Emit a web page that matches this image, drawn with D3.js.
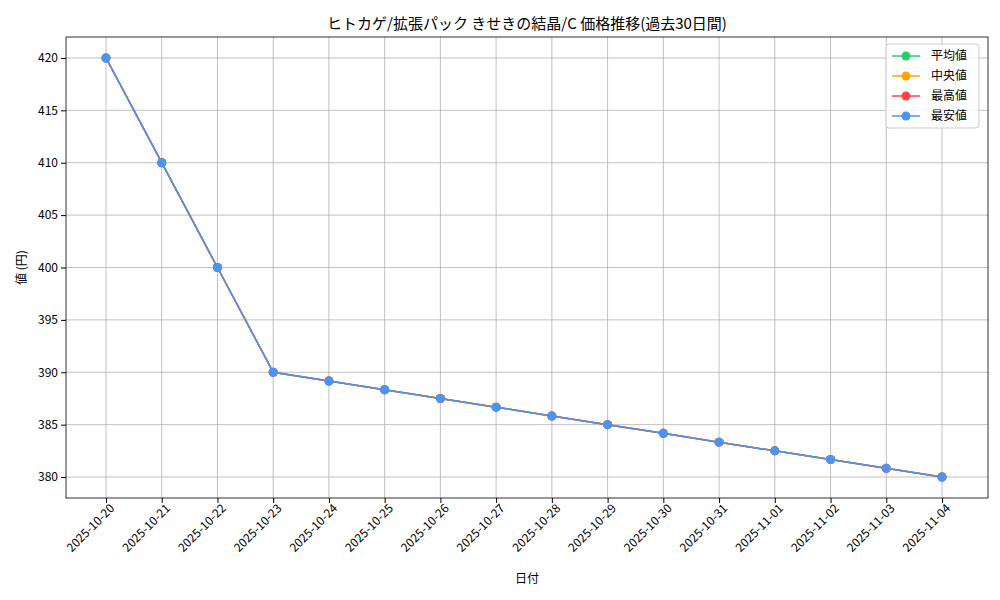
<!DOCTYPE html>
<html><head><meta charset="utf-8">
<script src="https://cdn.jsdelivr.net/npm/d3@7"></script>
<style>body{margin:0;background:#fff}text{font-family:"Noto Sans CJK JP",sans-serif}</style>
</head><body><svg id="c" width="1000" height="600"></svg>
<script>
const dates=["2025-10-20","2025-10-21","2025-10-22","2025-10-23","2025-10-24","2025-10-25","2025-10-26","2025-10-27","2025-10-28","2025-10-29","2025-10-30","2025-10-31","2025-11-01","2025-11-02","2025-11-03","2025-11-04"];
const avgVals=[420,410,400,390,389.17,388.33,387.5,386.67,385.83,385,384.17,383.33,382.5,381.67,380.83,380];
const medVals=[420,410,400,390,389.17,388.33,387.5,386.67,385.83,385,384.17,383.33,382.5,381.67,380.83,380];
const maxVals=[420,410,400,390,389.17,388.33,387.5,386.67,385.83,385,384.17,383.33,382.5,381.67,380.83,380];
const minVals=[420,410,400,390,389.17,388.33,387.5,386.67,385.83,385,384.17,383.33,382.5,381.67,380.83,380];
const yTicks=[380,385,390,395,400,405,410,415,420];
const series=[{name:"平均値",v:avgVals,c:"#2ecc71"},{name:"中央値",v:medVals,c:"#ffa500"},{name:"最高値",v:maxVals,c:"#ff4444"},{name:"最安値",v:minVals,c:"#4a94f5"}];
const L=66,R=988,T=37,B=498;
const svg=d3.select("#c");
const x=d3.scalePoint().domain(dates).range([106,942]).padding(0);
const y=d3.scaleLinear().domain([378,422]).range([B,T]);
const g=svg.append("g");
g.selectAll(".gx").data(dates).join("line").attr("x1",d=>x(d)).attr("x2",d=>x(d)).attr("y1",T).attr("y2",B).attr("stroke","#b0b0b0").attr("stroke-width",0.8);
g.selectAll(".gy").data(yTicks).join("line").attr("y1",d=>y(d)).attr("y2",d=>y(d)).attr("x1",L).attr("x2",R).attr("stroke","#b0b0b0").attr("stroke-width",0.8);
const xa=svg.append("g").attr("transform",`translate(0,${B})`).call(d3.axisBottom(x).tickSize(5).tickSizeOuter(0));
xa.selectAll("text").attr("text-anchor","end").attr("x",4).attr("y",8).attr("dy","0.7em").attr("transform","rotate(-45,0,8)").style("font-size","12px").attr("fill","#000");
const ya=svg.append("g").attr("transform",`translate(${L},0)`).call(d3.axisLeft(y).tickValues(yTicks).tickSize(5).tickSizeOuter(0));
ya.selectAll("text").style("font-size","12px").attr("fill","#000");
svg.selectAll(".domain").remove();
svg.append("rect").attr("x",L).attr("y",T).attr("width",R-L).attr("height",B-T).attr("fill","none").attr("stroke","#000").attr("stroke-width",0.8);
const line=d3.line().x((d,i)=>x(dates[i])).y(d=>y(d));
series.forEach(s=>{
 svg.append("path").attr("d",line(s.v)).attr("fill","none").attr("stroke",s.c).attr("stroke-width",1.5);
 svg.selectAll(null).data(s.v).join("circle").attr("cx",(d,i)=>x(dates[i])).attr("cy",d=>y(d)).attr("r",4.5).attr("fill",s.c);
});
svg.append("text").attr("x",(L+R)/2).attr("y",29).attr("text-anchor","middle").style("font-size","15px").text("ヒトカゲ/拡張パック きせきの結晶/C 価格推移(過去30日間)");
svg.append("text").attr("x",(L+R)/2).attr("y",583).attr("text-anchor","middle").style("font-size","12px").text("日付");
svg.append("text").attr("transform",`translate(26,${(T+B)/2}) rotate(-90)`).attr("text-anchor","middle").style("font-size","12px").text("値 (円)");
const lg=svg.append("g").attr("transform","translate(886,44)");
lg.append("rect").attr("width",93).attr("height",84).attr("rx",3).attr("fill","#fff").attr("fill-opacity",0.8).attr("stroke","#ccc");
series.forEach((s,i)=>{
 const yy=12+i*20;
 lg.append("line").attr("x1",6).attr("x2",34).attr("y1",yy).attr("y2",yy).attr("stroke",s.c).attr("stroke-width",1.5);
 lg.append("circle").attr("cx",20).attr("cy",yy).attr("r",4.5).attr("fill",s.c);
 lg.append("text").attr("x",45).attr("y",yy+4).style("font-size","12px").text(s.name);
});
</script></body></html>
